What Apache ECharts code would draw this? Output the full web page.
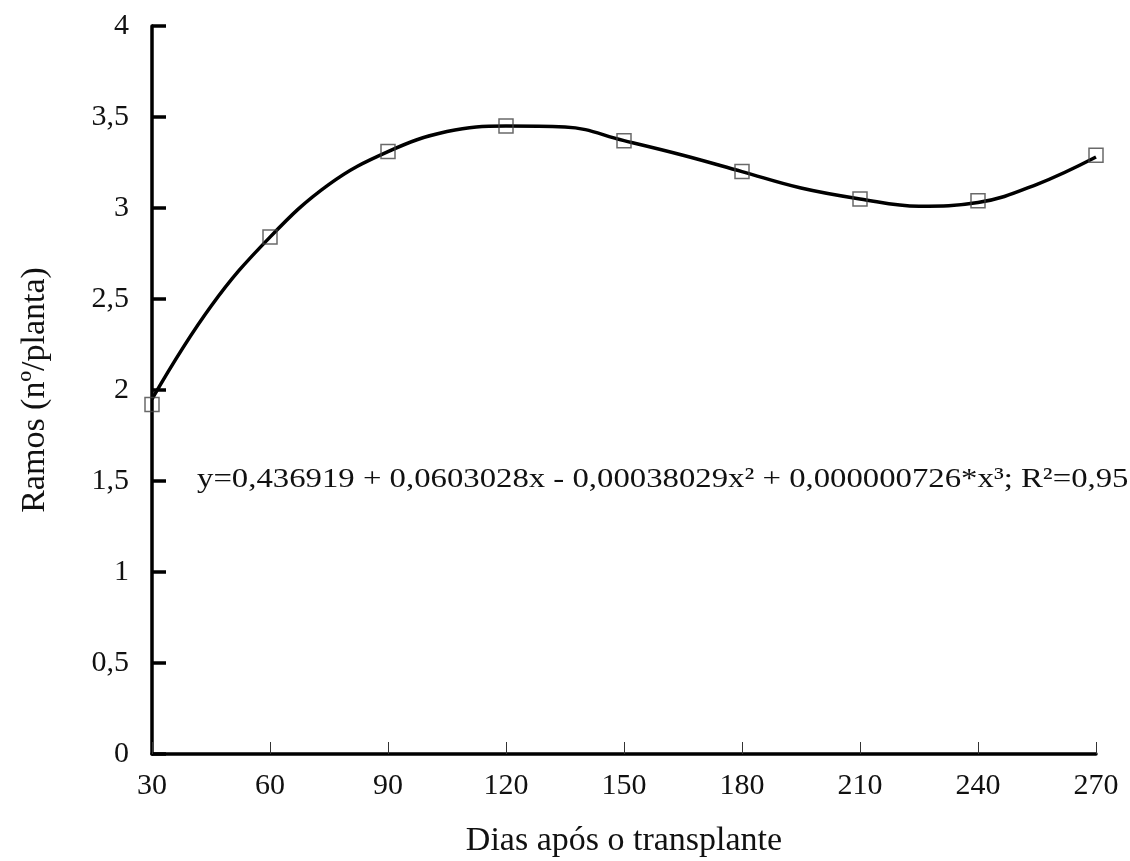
<!DOCTYPE html>
<html>
<head>
<meta charset="utf-8">
<script src="https://cdn.jsdelivr.net/npm/echarts@6/dist/echarts.min.js"></script>
<style>
  html, body { margin: 0; padding: 0; background: #fff; }
  #container1 { width: 1130px; height: 861px; }
</style>
</head>
<body>
<div id="container1"></div>
<script>
// observed means (markers)
var dias = [30, 60, 90, 120, 150, 180, 210, 240, 270];
var ramos = [1.92, 2.84, 3.31, 3.45, 3.37, 3.20, 3.05, 3.04, 3.29];

// fitted curve, every 15 days
var curvaDias = [30, 45, 60, 75, 90, 105, 120, 135, 150, 165, 180, 195, 210, 225, 240, 255, 270];
var curvaRamos = [1.95, 2.46, 2.84, 3.13, 3.31, 3.42, 3.45, 3.445, 3.37, 3.29, 3.20, 3.11, 3.05, 3.01, 3.03, 3.13, 3.28];

var xTicks = [30, 60, 90, 120, 150, 180, 210, 240, 270];
var equacao = "y=0,436919 + 0,0603028x - 0,00038029x\u00b2 + 0,000000726*x\u00b3; R\u00b2=0,95";

var fonte = "Liberation Serif";

var curvaData = [];
for (var i = 0; i < curvaDias.length; i++) {
    curvaData.push([curvaDias[i], curvaRamos[i]]);
}
var pontos = [];
for (var j = 0; j < dias.length; j++) {
    pontos.push([dias[j], ramos[j]]);
}

var chart = echarts.init(document.getElementById("container1"));
var option = {
    backgroundColor: "#fff",
    animation: false,
    grid: {
        left: 152,
        right: 34,
        top: 26,
        bottom: 107,
        outerBoundsMode: "none"
    },
    xAxis: {
        type: "value",
        min: xTicks[0],
        max: xTicks[xTicks.length - 1],
        interval: 30,
        name: "Dias após o transplante",
        nameLocation: "middle",
        nameGap: 70,
        nameTextStyle: { fontFamily: fonte, fontSize: 34, color: "#111" },
        axisLine: { show: true, lineStyle: { color: "#000", width: 3.5 } },
        axisTick: { show: true, inside: true, length: 12, lineStyle: { color: "#333", width: 1 } },
        axisLabel: { margin: 17, fontFamily: fonte, fontSize: 30, color: "#111" },
        splitLine: { show: false }
    },
    yAxis: {
        type: "value",
        min: 0,
        max: 4,
        interval: 0.5,
        name: "Ramos (nº/planta)",
        nameLocation: "middle",
        nameRotate: 90,
        nameGap: 100,
        nameTextStyle: { fontFamily: fonte, fontSize: 34, color: "#111" },
        axisLine: { show: true, lineStyle: { color: "#000", width: 3.5 } },
        axisTick: { show: true, inside: true, length: 14, lineStyle: { color: "#000", width: 3.5 } },
        axisLabel: {
            margin: 23,
            fontFamily: fonte,
            fontSize: 30,
            color: "#111",
            formatter: function (v) { return String(v).replace(".", ","); }
        },
        splitLine: { show: false }
    },
    graphic: [{
        type: "text",
        left: 197,
        top: 466,
        scaleX: 1.17,
        style: {
            text: equacao,
            fontFamily: fonte,
            fontSize: 28,
            fill: "#111"
        }
    }],
    series: [
        {
            type: "line",
            name: "ajuste",
            data: curvaData,
            smooth: 0.4,
            showSymbol: false,
            lineStyle: { color: "#000", width: 3.5 },
            z: 2
        },
        {
            type: "scatter",
            name: "observado",
            data: pontos,
            symbol: "rect",
            symbolSize: 14,
            itemStyle: { color: "rgba(255,255,255,0)", borderColor: "#444", borderWidth: 1.5 },
            z: 3
        }
    ]
};
chart.setOption(option);
</script>
</body>
</html>
